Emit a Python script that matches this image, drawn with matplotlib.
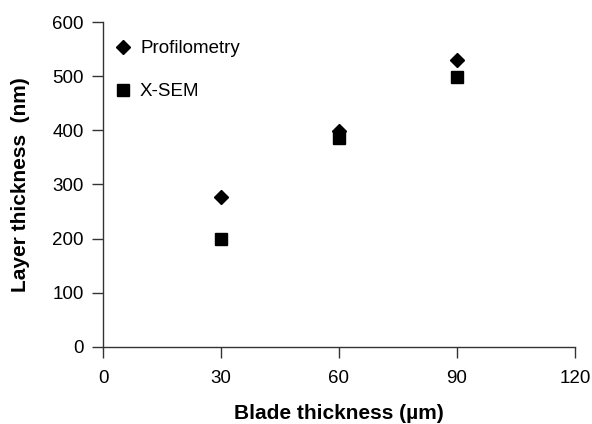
import matplotlib
matplotlib.use("Agg")
import matplotlib.pyplot as plt

blade = [30, 60, 90]
profilometry = [276, 398, 530]
xsem = [200, 386, 498]
xticks = [0, 30, 60, 90, 120]
yticks = [0, 100, 200, 300, 400, 500, 600]

plt.rcParams["font.family"] = ["Liberation Sans", "DejaVu Sans"]
ink = "#333333"

fig = plt.figure(figsize=(5.92, 4.24), dpi=100)
ax = fig.add_axes([0.174, 0.182, 0.797, 0.766])

ax.plot(blade, profilometry, ls="none", marker="D", ms=7.6, color="black",
        label="Profilometry")
ax.plot(blade, xsem, ls="none", marker="s", ms=9.2, color="black",
        label="X-SEM")

ax.set_xlim(0, 120)
ax.set_ylim(0, 600)
ax.set_xticks(xticks)
ax.set_yticks(yticks)
for s in ("top", "right"):
    ax.spines[s].set_visible(False)
for s in ("left", "bottom"):
    ax.spines[s].set_color(ink)
    ax.spines[s].set_linewidth(1.0)
ax.tick_params(direction="out", length=8, width=1.0, color=ink,
               labelsize=13.5, labelcolor="black")
ax.tick_params(axis="x", pad=9)
ax.tick_params(axis="y", pad=6)

ax.set_xlabel("Blade thickness (µm)", fontsize=15, fontweight="bold", labelpad=12)
ax.set_ylabel("Layer thickness  (nm)", fontsize=15, fontweight="bold", labelpad=16)

ax.legend(loc="upper left", bbox_to_anchor=(0.007, 0.968), frameon=False,
          fontsize=13.5, labelspacing=1.4, handlelength=1.0, handletextpad=0.4,
          borderaxespad=0.0)

fig.savefig("out.png", dpi=100)
